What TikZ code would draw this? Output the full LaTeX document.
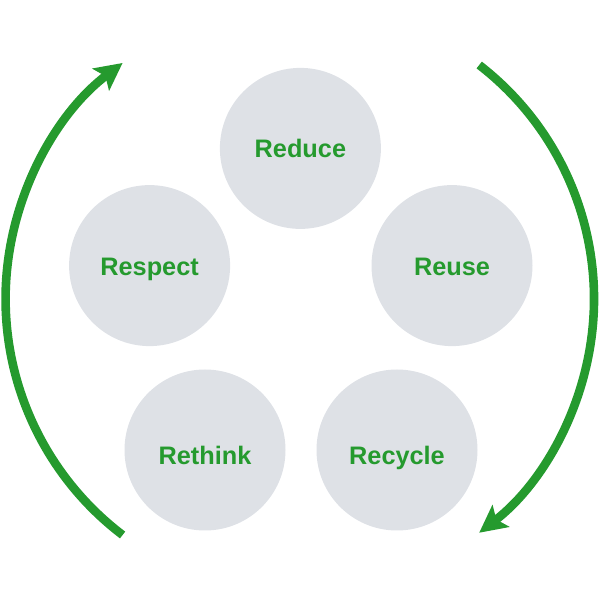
\documentclass[tikz,border=0pt]{standalone}
\usepackage{fontspec}
\setmainfont{Liberation Sans}
\usetikzlibrary{arrows.meta}
\definecolor{leafgreen}{HTML}{259A2E}
\definecolor{discgray}{HTML}{DEE1E6}
\tikzset{
	disc/.style={circle, fill=discgray, minimum size=4.025cm, inner sep=0pt, text depth=0pt,
		text=leafgreen, font=\fontsize{18}{20}\selectfont\bfseries},
	cyclearrow/.style={draw=leafgreen, line width=0.215cm,
		-{Stealth[length=0.68cm, width=0.68cm, inset=0.14cm, fill=leafgreen]}}
}
\begin{document}
\begin{tikzpicture}[line join=round]
	\useasboundingbox (0,0) rectangle (15,15);
	\coordinate (RightStart) at (11.98,13.375);
	\coordinate (LeftStart) at (3.065,1.625);

	% Five discs
	\foreach \n/\x/\y/\h/\lab in {
		reduce/7.51/11.29/0.435/Reduce, respect/3.74/8.36/0.5/Respect,
		reuse/11.3/8.36/0.5/Reuse, rethink/5.125/3.75/0.72/Rethink,
		recycle/9.925/3.75/0.72/Recycle
	} \node[disc, text height=\h cm] (\n) at (\x,\y) {\lab};

	% Two arcs
	\draw[cyclearrow] (RightStart) arc (52.3:-52.3:7.39);
	\draw[cyclearrow] (LeftStart) arc (232.75:127.25:7.4125);
\end{tikzpicture}
\end{document}
